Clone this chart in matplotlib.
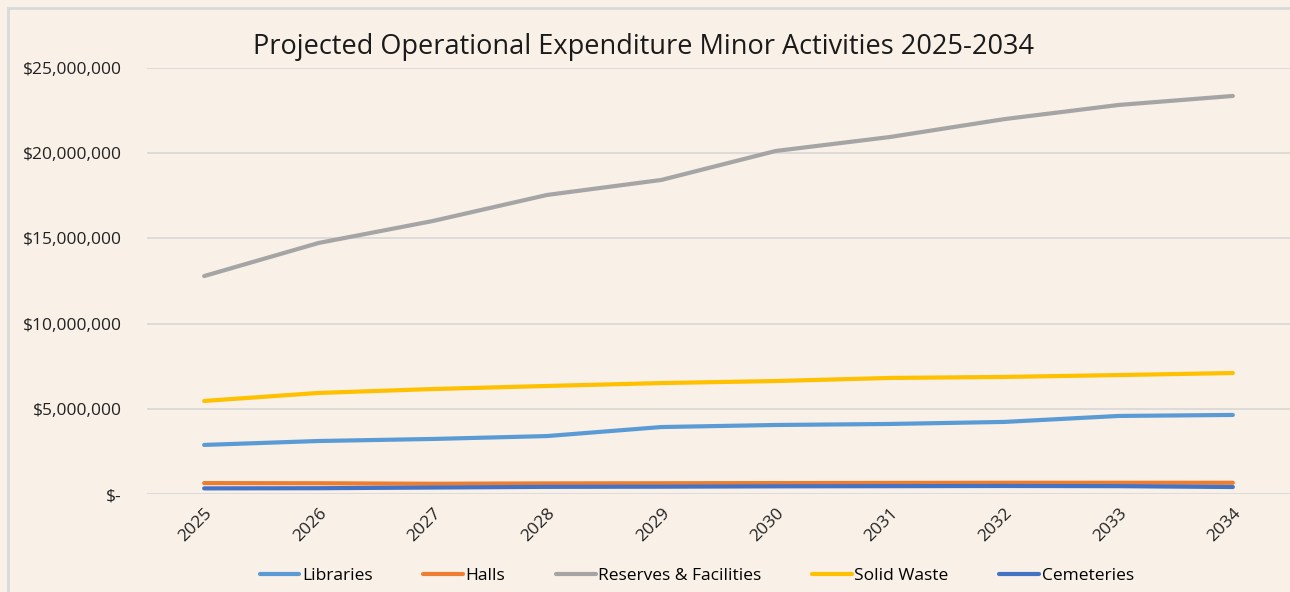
import matplotlib
matplotlib.use("Agg")
import matplotlib.pyplot as plt
from matplotlib.patches import Rectangle
from matplotlib.ticker import FuncFormatter

years = ["2025", "2026", "2027", "2028", "2029", "2030", "2031", "2032", "2033", "2034"]
libraries = [2.88e6, 3.11e6, 3.23e6, 3.40e6, 3.93e6, 4.05e6, 4.11e6, 4.23e6, 4.58e6, 4.64e6]
halls = [0.64e6, 0.63e6, 0.60e6, 0.62e6, 0.63e6, 0.64e6, 0.65e6, 0.66e6, 0.66e6, 0.66e6]
reserves = [12.79e6, 14.73e6, 16.02e6, 17.55e6, 18.43e6, 20.13e6, 20.95e6, 22.0e6, 22.83e6, 23.36e6]
solid_waste = [5.46e6, 5.93e6, 6.16e6, 6.34e6, 6.51e6, 6.63e6, 6.81e6, 6.87e6, 6.98e6, 7.10e6]
cemeteries = [0.33e6, 0.34e6, 0.38e6, 0.42e6, 0.43e6, 0.45e6, 0.46e6, 0.47e6, 0.46e6, 0.41e6]

series = [
    ("Libraries", libraries, "#5B9BD5"),
    ("Halls", halls, "#ED7D31"),
    ("Reserves & Facilities", reserves, "#A5A5A5"),
    ("Solid Waste", solid_waste, "#FFC000"),
    ("Cemeteries", cemeteries, "#4472C4"),
]

plt.rcParams['font.family'] = ['Open Sans', 'DejaVu Sans']
bg = "#F9F0E7"

fig = plt.figure(figsize=(12.9, 5.92), dpi=100, facecolor=bg)
# outer chart border
fig.patches.append(Rectangle((8 / 1290, -0.05), 1.1, 1 - 8 / 592 + 0.05, transform=fig.transFigure,
                             fill=False, edgecolor="#D9D9D9", linewidth=2, zorder=0))

ax = fig.add_axes([147 / 1290, 98 / 592, 1143 / 1290, 426 / 592])
ax.set_facecolor(bg)

x = list(range(len(years)))
for name, vals, col in series:
    ax.plot(x, vals, color=col, linewidth=3, label=name, solid_capstyle="round")

ax.set_xlim(-0.5, len(years) - 0.5)
ax.set_ylim(0, 25e6)
ax.set_yticks([0, 5e6, 10e6, 15e6, 20e6, 25e6])
ax.yaxis.set_major_formatter(FuncFormatter(lambda v, p: "$-" if v == 0 else f"${v:,.0f}"))
ax.set_xticks(x)
ax.set_xticklabels(years, rotation=45, ha="right", va="top", rotation_mode="anchor")
ax.tick_params(axis="both", length=0, labelsize=12.5, colors="#222222")
ax.tick_params(axis="y", pad=18)
ax.tick_params(axis="x", pad=8)
ax.grid(axis="y", color="#D9D9D9", linewidth=1.3)
ax.set_axisbelow(True)
for s in ax.spines.values():
    s.set_visible(False)

fig.text(0.4985, 0.92, "Projected Operational Expenditure Minor Activities 2025-2034",
         ha="center", va="center", fontsize=19.5, color="#1a1a1a")

fig.legend(loc="center", bbox_to_anchor=(0.54, 0.027), ncol=5, frameon=False, fontsize=12.5,
           handlelength=2.3, columnspacing=2.9, handletextpad=0.15)

fig.savefig("out.png", dpi=100, facecolor=bg)
